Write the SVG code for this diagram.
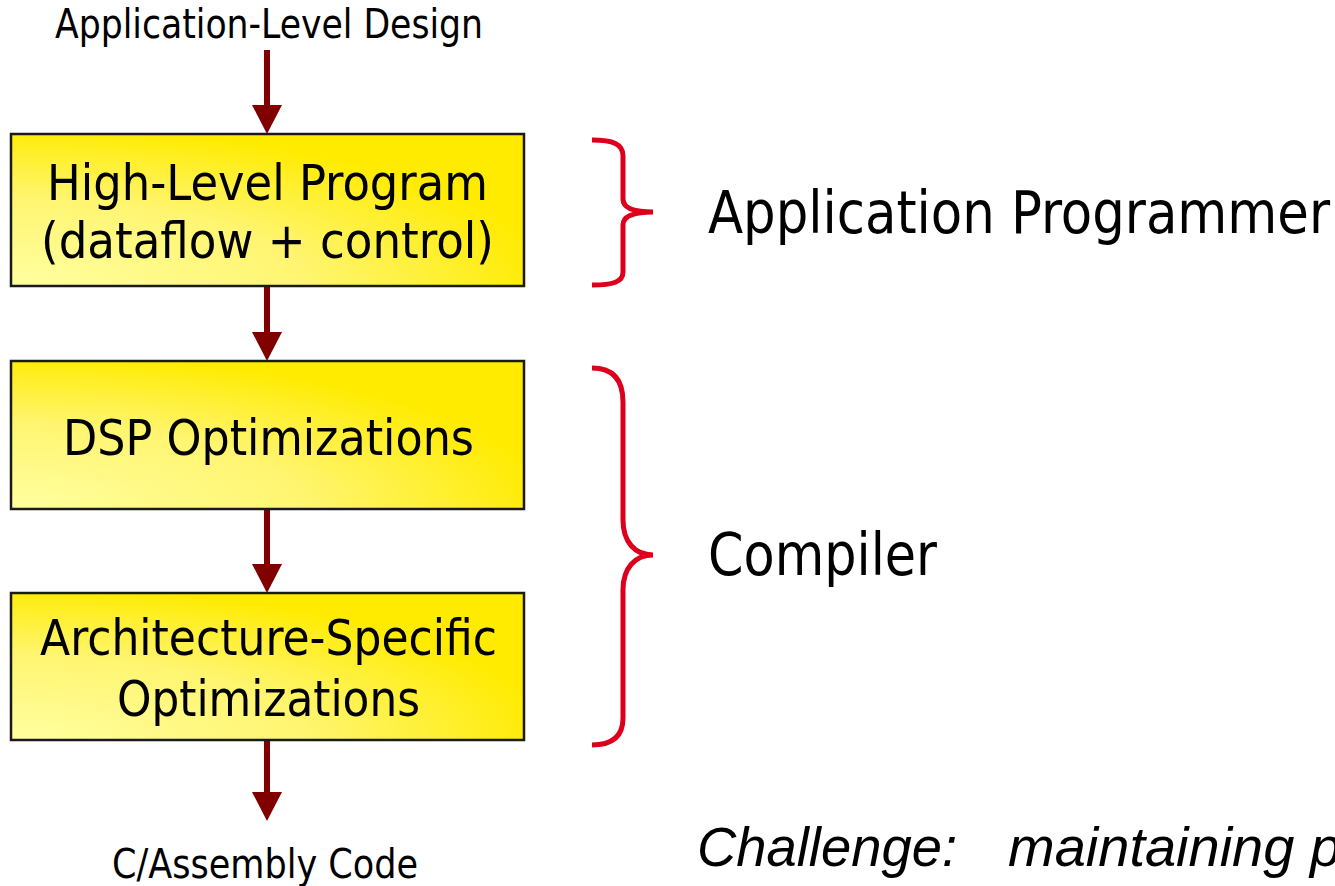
<svg xmlns="http://www.w3.org/2000/svg" width="1335" height="886" viewBox="0 0 1335 886">
  <defs>
    <!-- pale corner at bottom-left fading to full yellow -->
    <radialGradient id="boxFill" cx="0" cy="1" r="1.05" fx="0" fy="1">
      <stop offset="0" stop-color="#ffffa0"/>
      <stop offset="0.55" stop-color="#fff570"/>
      <stop offset="1" stop-color="#ffeb00"/>
    </radialGradient>
    <marker id="head" markerUnits="userSpaceOnUse" markerWidth="30" markerHeight="30" refX="0" refY="15" orient="auto" overflow="visible">
      <path d="M0,0 L29,15 L0,30 Z" fill="#800000"/>
    </marker>
    <style>
      .box { fill: url(#boxFill); stroke: #1a1a1a; stroke-width: 2.5; }
      .lbl { font-family: "DejaVu Sans", "Liberation Sans", sans-serif; font-stretch: condensed; fill: #000; }
      .small { font-size: 40px; }
      .mid { font-size: 50px; }
      .big { font-size: 59px; }
      .flow { stroke: #800000; stroke-width: 6; fill: none; marker-end: url(#head); }
      .brace { stroke: #dc001c; stroke-width: 5; fill: none; stroke-linecap: butt; }
      .note { font-family: "Liberation Sans", Arial, sans-serif; font-style: italic; font-size: 56px; fill: #000; }
    </style>
  </defs>

  <rect width="1335" height="886" fill="#ffffff"/>

  <!-- flow arrows -->
  <g id="connectors">
    <line class="flow" x1="267" y1="50" x2="267" y2="105"/>
    <line class="flow" x1="267" y1="287" x2="267" y2="332"/>
    <line class="flow" x1="267" y1="510" x2="267" y2="564"/>
    <line class="flow" x1="267" y1="740" x2="267" y2="792"/>
  </g>

  <g id="input">
    <text class="lbl small" x="269" y="38" text-anchor="middle" textLength="428" lengthAdjust="spacingAndGlyphs">Application-Level Design</text>
  </g>

  <g id="high-level-program">
    <rect class="box" x="11" y="134" width="513" height="152"/>
    <text class="lbl mid" x="267.5" y="200" text-anchor="middle" textLength="441" lengthAdjust="spacingAndGlyphs">High-Level Program</text>
    <text class="lbl mid" x="267.5" y="258" text-anchor="middle" textLength="453" lengthAdjust="spacingAndGlyphs">(dataflow + control)</text>
  </g>

  <g id="dsp-optimizations">
    <rect class="box" x="11" y="361" width="513" height="148"/>
    <text class="lbl mid" x="268.5" y="455" text-anchor="middle" textLength="411" lengthAdjust="spacingAndGlyphs">DSP Optimizations</text>
  </g>

  <g id="arch-optimizations">
    <rect class="box" x="11" y="593" width="513" height="147"/>
    <text class="lbl mid" x="268.5" y="655" text-anchor="middle" textLength="457" lengthAdjust="spacingAndGlyphs">Architecture-Specific</text>
    <text class="lbl mid" x="268.5" y="716" text-anchor="middle" textLength="303" lengthAdjust="spacingAndGlyphs">Optimizations</text>
  </g>

  <g id="output">
    <text class="lbl small" x="265" y="878" text-anchor="middle" textLength="306" lengthAdjust="spacingAndGlyphs">C/Assembly Code</text>
  </g>

  <!-- responsibility brackets -->
  <g id="programmer">
    <path class="brace" d="M592,140 C613,140 623,144 623,156 L623,199 C623,208 634,212 653,212 C634,212 623,216 623,225 L623,272 C623,282 613,285 592,285"/>
    <text class="lbl big" x="708" y="233" textLength="622" lengthAdjust="spacingAndGlyphs">Application Programmer</text>
  </g>

  <g id="compiler">
    <path class="brace" d="M592,368 C613,368 623,380 623,402 L623,520 C623,542 635,555 653,555 C635,555 623,568 623,590 L623,718 C623,736 613,745 592,745"/>
    <text class="lbl big" x="708" y="575" textLength="229" lengthAdjust="spacingAndGlyphs">Compiler</text>
  </g>

  <text class="note" y="866"><tspan x="697" textLength="260" lengthAdjust="spacingAndGlyphs">Challenge:</tspan><tspan x="1008">maintaining p</tspan></text>
</svg>
